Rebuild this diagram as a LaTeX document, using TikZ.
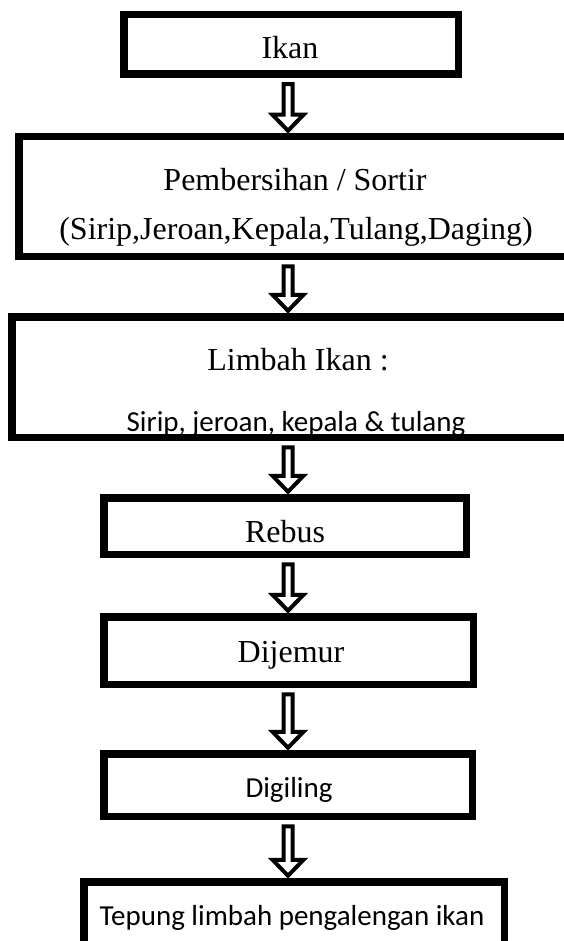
\documentclass[tikz,border=0pt]{standalone}
\usepackage{fontspec}
\setmainfont{Liberation Serif}
\newfontfamily\calibri{Carlito}
\usetikzlibrary{calc}
\newcommand{\flowarrow}[2]{%
\draw[blockarrow] ($(#1.south -| axis)+(-4.5,10)$) -- ($(#2.north -| axis)+(-4.5,-22)$) -- ++(-11,0) -- ($(#2.north -| axis)+(0,-6)$) -- ($(#2.north -| axis)+(15.5,-22)$) -- ++(-11,0) -- ($(#1.south -| axis)+(4.5,10)$) -- cycle;}
\begin{document}
\begin{tikzpicture}[x=1pt,y=-1pt,
  box/.style={draw,line width=7.5pt,inner sep=0pt,outer sep=0pt},
  serif/.style={font=\fontsize{32}{38}\selectfont,inner sep=0pt,anchor=base},
  sans/.style={font=\calibri\fontsize{29}{35}\selectfont,inner sep=0pt,anchor=base},
  blockarrow/.style={draw,fill=white,line width=4pt,line join=miter}]
\useasboundingbox (0,0) rectangle (564,941);
\clip (0,0) rectangle (564,941);
\coordinate (axis) at (288,0);
% boxes
\node[box,minimum width=334.5pt,minimum height=59.5pt] (ikan) at (291,44.5) {};
\node[box,minimum width=557.5pt,minimum height=119.5pt] (sortir) at (297.5,196.5) {};
\node[box,minimum width=569.5pt,minimum height=120.5pt] (limbah) at (296.5,377) {};
\node[box,minimum width=362.5pt,minimum height=56.5pt] (rebus) at (285,526) {};
\node[box,minimum width=369.5pt,minimum height=67.5pt] (jemur) at (288.5,650.5) {};
\node[box,minimum width=368.5pt,minimum height=62.5pt] (giling) at (288,785) {};
\node[box,minimum width=420.5pt,minimum height=74.5pt] (tepung) at (294,919) {};
% texts
\node[serif] (ikanT) at (290,59) {Ikan};
\node[serif] (sortirA) at (295,191) {Pembersihan / Sortir};
\node[serif] (sortirB) at (296,240) {(Sirip,Jeroan,Kepala,Tulang,Daging)};
\node[serif] (limbahA) at (298,370) {Limbah Ikan :};
\node[sans] (limbahB) at (296,431) {Sirip, jeroan, kepala \& tulang};
\node[serif] (rebusT) at (285,542) {Rebus};
\node[serif] (jemurT) at (291,662) {Dijemur};
\node[sans] (gilingT) at (289,797) {Digiling};
\node[sans] (tepungT) at (292,925) {Tepung limbah pengalengan ikan};
% arrows
\flowarrow{ikan}{sortir}
\flowarrow{sortir}{limbah}
\flowarrow{limbah}{rebus}
\flowarrow{rebus}{jemur}
\flowarrow{jemur}{giling}
\flowarrow{giling}{tepung}
\end{tikzpicture}
\end{document}
